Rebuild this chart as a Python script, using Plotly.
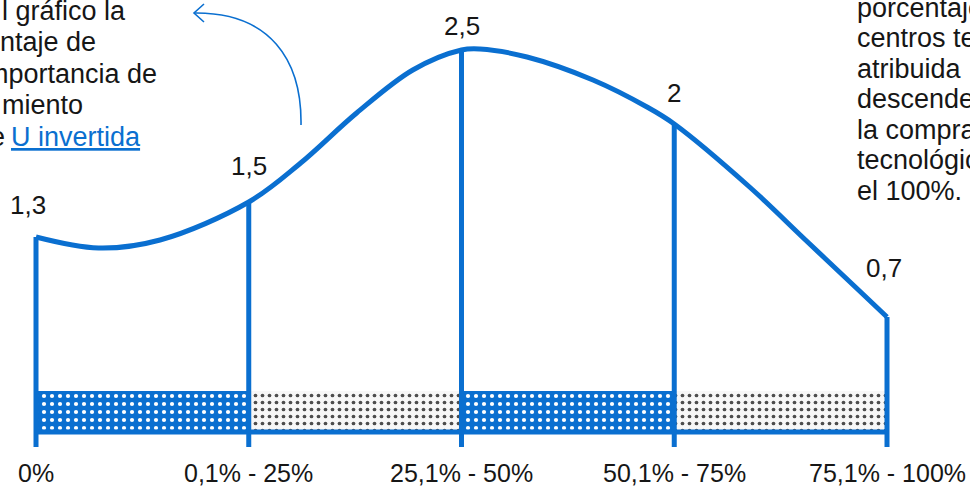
import plotly.graph_objects as go

# ---------------- data ----------------
categories = ["0%", "0,1% - 25%", "25,1% - 50%", "50,1% - 75%", "75,1% - 100%"]
values = [1.3, 1.5, 2.5, 2.0, 0.7]
value_labels = [f"{v:g}".replace(".", ",") for v in values]

# points: position (category units) and height (drawing units, baseline = 0)
curve_x = [0, 0.294, 0.583, 1, 1.244, 1.507, 1.771, 2, 2.087,
           2.308, 2.618, 2.872, 3, 3.354, 3.617, 3.881, 4]
curve_h = [195, 184, 192, 230, 269, 319, 362, 382, 383,
           375, 352, 325, 308, 245, 192, 139, 115]

# bottom band segments
band_x = [0.5, 1.5, 2.5, 3.5]
band_kind = ["blue", "gray", "blue", "gray"]
band_height = 41

# ---------------- style ----------------
BLUE = "#0a6fd0"
INK = "#161616"
FONT = "Liberation Sans"
W, H = 970, 487

tops = {x: h for x, h in zip(curve_x, curve_h)}
positions = list(range(len(categories)))

fig = go.Figure()

# patterned band
for kind, bg, fg, sz, sol in [("blue", BLUE, "white", 8, 0.22), ("gray", "#f7f7f7", "#4d4d4d", 7, 0.22)]:
    xs = [x for x, k in zip(band_x, band_kind) if k == kind]
    fig.add_trace(go.Bar(
        x=xs, y=[band_height] * len(xs), base=0, width=1,
        marker=dict(color=bg, line=dict(width=0),
                    pattern=dict(shape=".", fillmode="overlay", fgcolor=fg, fgopacity=1,
                                 size=sz, solidity=sol)),
        hoverinfo="skip"))

# baseline
fig.add_trace(go.Scatter(x=[positions[0], positions[-1]], y=[0, 0], mode="lines",
                         line=dict(color=BLUE, width=5), hoverinfo="skip"))

# vertical lines up to the curve
vx, vy = [], []
for p in positions:
    vx += [p, p, None]
    vy += [-15, tops[p], None]
fig.add_trace(go.Scatter(x=vx, y=vy, mode="lines",
                         line=dict(color=BLUE, width=5), hoverinfo="skip"))

# the curve
fig.add_trace(go.Scatter(x=curve_x, y=curve_h, mode="lines",
                         line=dict(color=BLUE, width=5, shape="spline", smoothing=1),
                         hoverinfo="skip"))

annotations = []
# category labels
for p, c in zip(positions, categories):
    annotations.append(dict(x=p, y=-41, xref="x", yref="y", text=c, showarrow=False,
                            font=dict(family=FONT, size=25, color=INK),
                            xanchor="center", yanchor="middle"))
# value labels
lifts = [32, 36, 24, 31, 49]
xshifts = [-8, 0, 0, 0, -3]
for p, t, lift, xs in zip(positions, value_labels, lifts, xshifts):
    annotations.append(dict(x=p, y=tops[p] + lift, xref="x", yref="y", text=t,
                            showarrow=False, xshift=xs,
                            font=dict(family=FONT, size=26, color=INK),
                            xanchor="center", yanchor="middle"))


def px(xp, yp):
    return xp / W, 1 - yp / H


# left text block (cut by the page edge)
left_lines = [("l gráfico la", 0, 21, "left"),
              ("ntaje de", -2, 52, "left"),
              ("mportancia de", -16.5, 84, "left"),
              ("miento", 0, 115, "left"),
              ("de", 6.5, 147, "right"),
              ("<span style='color:%s'><u>U invertida</u></span>" % BLUE, 9, 147, "left")]
right_lines = [("porcentaje", 855, 18), ("centros tecnológicos", 855, 48),
               ("atribuida", 855, 79), ("descendente", 855, 109),
               ("la compra", 855, 140), ("tecnológica", 855, 170), ("el 100%.", 855, 201)]
for t, x0, base, anchor in left_lines:
    xp, yp = px(x0, base)
    annotations.append(dict(x=xp, y=yp, xref="paper", yref="paper", text=t,
                            showarrow=False, xanchor=anchor, yanchor="bottom",
                            font=dict(family=FONT, size=27, color=INK), yshift=-7))
for t, x0, base in right_lines:
    xp, yp = px(x0, base)
    annotations.append(dict(x=xp, y=yp, xref="paper", yref="paper", text=t,
                            showarrow=False, xanchor="left", yanchor="bottom",
                            font=dict(family=FONT, size=27, color=INK), yshift=-7))

# curved arrow
def pt(xp, yp):
    a, b = px(xp, yp)
    return f"{a:.5f},{b:.5f}"

arrow_path = f"M {pt(301,125)} C {pt(302,60)} {pt(270,12)} {pt(194,13)}"
head_path = f"M {pt(204,4)} L {pt(194,13)} L {pt(204,22)}"
shapes = [dict(type="path", path=arrow_path, xref="paper", yref="paper",
               line=dict(color=BLUE, width=1.6)),
          dict(type="path", path=head_path, xref="paper", yref="paper",
               line=dict(color=BLUE, width=1.6))]

x0 = -36 / 212.75
fig.update_layout(
    width=W, height=H, margin=dict(l=0, r=0, t=0, b=0),
    paper_bgcolor="white", plot_bgcolor="white", showlegend=False,
    barmode="overlay", bargap=0,
    xaxis=dict(range=[x0, x0 + W / 212.75], visible=False, fixedrange=True),
    yaxis=dict(range=[-55, 432], visible=False, fixedrange=True),
    annotations=annotations, shapes=shapes,
)

fig.write_html("out.html", config={"displayModeBar": False},
               post_script="document.body.style.margin='0';document.body.style.overflow='hidden';")
